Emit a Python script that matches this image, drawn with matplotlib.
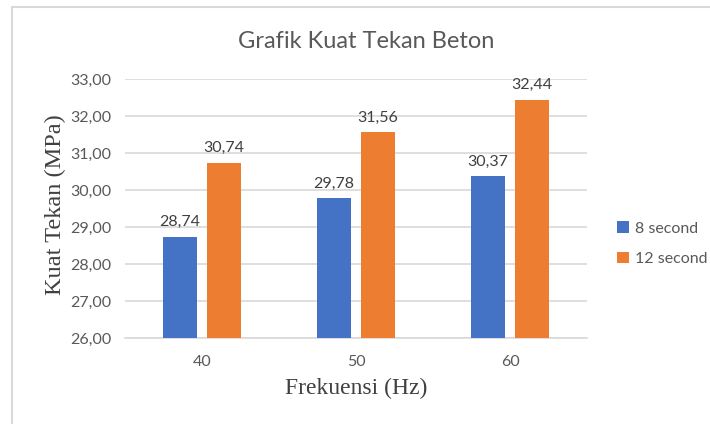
import numpy as np
import matplotlib.pyplot as plt
from matplotlib.patches import Rectangle

# Data
frekuensi = ["40", "50", "60"]
detik_8 = [28.74, 29.78, 30.37]
detik_12 = [30.74, 31.56, 32.44]
series_names = ["8 second", "12 second"]

blue = "#4472C4"
orange = "#ED7D31"
grey = "#595959"

fig = plt.figure(figsize=(7.10, 4.24), dpi=100)
fig.patch.set_facecolor("white")

# chart border (runs off the right and bottom edge)
fig.patches.append(Rectangle((12 / 710, -0.05), 1.0, 1 - 7 / 424 + 0.05,
                             transform=fig.transFigure, fill=False,
                             edgecolor="#D9D9D9", linewidth=1.5))

ax = fig.add_axes([125 / 710, 1 - 338 / 424, 462 / 710, (338 - 79) / 424])

x = np.arange(len(frekuensi))
w = 0.22
off = 0.143
b1 = ax.bar(x - off, detik_8, w, color=blue, label=series_names[0], zorder=3)
b2 = ax.bar(x + off, detik_12, w, color=orange, label=series_names[1], zorder=3)

for bars, vals in [(b1, detik_8), (b2, detik_12)]:
    for r, v in zip(bars, vals):
        ax.text(r.get_x() + r.get_width() / 2, v + 0.2, f"{v:.2f}".replace(".", ","),
                ha="center", va="bottom", fontsize=11.5, color="#404040",
                family="Lato")

ax.set_ylim(26, 33)
ax.set_xlim(-0.5, 2.5)
ax.set_yticks(np.arange(26, 34, 1))
ax.set_yticklabels([f"{t:.2f}".replace(".", ",") for t in np.arange(26, 34, 1)],
                   family="Lato", fontsize=11.5, color=grey)
ax.set_xticks(x)
ax.set_xticklabels(frekuensi, family="Lato", fontsize=11.5, color=grey)
ax.tick_params(length=0, pad=10)
ax.tick_params(axis="x", pad=12)
ax.grid(axis="y", color="#D9D9D9", linewidth=1.2, zorder=0)
for s in ["top", "right", "left"]:
    ax.spines[s].set_visible(False)
ax.spines["bottom"].set_color("#D9D9D9")
ax.spines["bottom"].set_linewidth(1.2)

fig.text(366 / 710, 1 - 42 / 424, "Grafik Kuat Tekan Beton", ha="center",
         va="center", fontsize=17, color=grey, family="Lato")
fig.text(55 / 710, 1 - 205 / 424, "Kuat Tekan (MPa)", rotation=90, ha="center",
         va="center", fontsize=17.5, color="#404040", family="Liberation Serif")
fig.text(356 / 710, 1 - 388 / 424, "Frekuensi (Hz)", ha="center", va="center",
         fontsize=17, color="#404040", family="Liberation Serif")

leg = fig.legend(loc="upper left", bbox_to_anchor=(603 / 710, 1 - 207 / 424),
                 frameon=False, prop={"family": "Lato", "size": 11.5},
                 handlelength=0.7, handleheight=0.7, handletextpad=0.4,
                 labelspacing=1.0)
for t in leg.get_texts():
    t.set_color(grey)

fig.savefig("out.png", dpi=100)
